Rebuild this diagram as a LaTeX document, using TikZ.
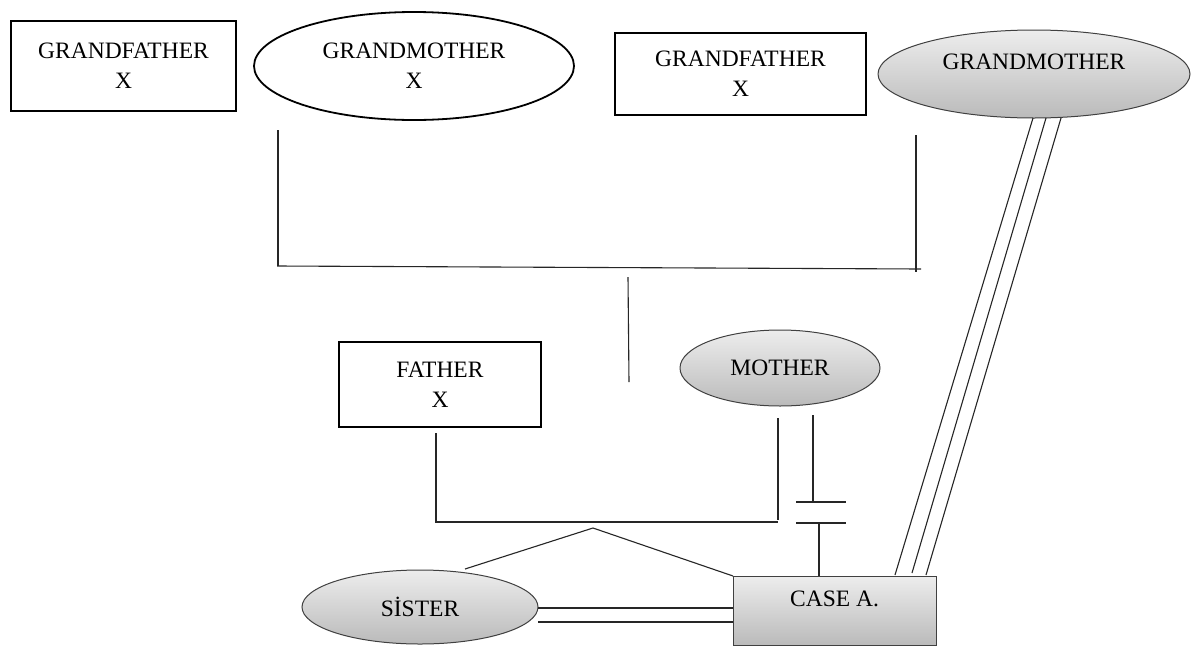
\documentclass[tikz,border=0pt]{standalone}
\usepackage{fontspec}
\setmainfont{Liberation Serif}
\usetikzlibrary{shapes.geometric,calc}
\begin{document}
\begin{tikzpicture}[x=1pt,y=-1pt,
  lblfont/.style={font=\fontsize{23.5}{30}\selectfont},
  every node/.style={inner sep=0pt,outer sep=0pt,align=center,lblfont},
  whitebox/.style={draw=black,line width=1.8pt,fill=white,rectangle},
  whiteell/.style={draw=black,line width=1.8pt,fill=white,ellipse},
  grayfill/.style={draw=black!75,line width=1pt,top color=black!7,bottom color=black!27},
  grayell/.style={grayfill,ellipse},
  graybox/.style={grayfill,rectangle},
  link/.style={draw=black!85,line width=1.1pt}]
\useasboundingbox (0,0) rectangle (1192,646);
\fill[white] (0,0) rectangle (1192,646);

% nodes
\node[whitebox,minimum width=225pt,minimum height=90pt] (gf1) at (123.5,66) {GRANDFATHER\\X};
\node[whiteell,minimum width=320pt,minimum height=108pt] (gm1) at (414,66) {GRANDMOTHER\\X};
\node[whitebox,minimum width=251pt,minimum height=82pt] (gf2) at (740.5,74) {GRANDFATHER\\X};
\node[grayell,minimum width=312pt,minimum height=88pt,
  label={[yshift=12pt,lblfont]center:GRANDMOTHER}] (gm2) at (1034,74) {};
\node[whitebox,minimum width=202pt,minimum height=85pt] (fa) at (440,384.5) {FATHER\\X};
\node[grayell,minimum width=200pt,minimum height=76pt] (mo) at (780,368) {MOTHER};
\node[grayell,minimum width=236pt,minimum height=74pt] (sis) at (420,607) {SİSTER};
\node[graybox,minimum width=203pt,minimum height=69pt,
  label={[yshift=12pt,lblfont]center:CASE A.}] (case) at (834.5,610.5) {};

% coordinates for free ends
\coordinate (gpL) at (278,130);
\coordinate (gpLb) at (278,266);
\coordinate (gpR) at (916,135);
\coordinate (gpRb) at (916,272);
\coordinate (hlL) at (277,266);
\coordinate (hlR) at (921,269);
\coordinate (dnT) at (628,277);
\coordinate (dnB) at (629,382);

\coordinate (faT) at (436,433);
\coordinate (faB) at (436,522);
\coordinate (moT) at (778,418);
\coordinate (moB) at (778,520);
\coordinate (pL) at (435,522);
\coordinate (pR) at (778,522);

\coordinate (m2T) at (813,415);
\coordinate (m2B) at (813,502);
\coordinate (bar1L) at (796,502);
\coordinate (bar1R) at (846,502);
\coordinate (bar2L) at (796,523);
\coordinate (bar2R) at (846,523);
\coordinate (m3T) at (819,523);

\coordinate (apex) at (593,528);
\coordinate (sisTop) at (465,569);

% grandparents
\draw[link] (gpL) -- (gpLb);
\draw[link] (gpR) -- (gpRb);
\draw[link] (hlL) -- (hlR);
\draw[link] (dnT) -- (dnB);

% parents
\draw[link] (faT) -- (faB);
\draw[link] (moT) -- (moB);
\draw[link] (pL) -- (pR);

% mother - case separated line
\draw[link] (m2T) -- (m2B);
\draw[link] (bar1L) -- (bar1R);
\draw[link] (bar2L) -- (bar2R);
\draw[link] (m3T) -- (m3T |- case.north);

% sibling triangle
\draw[link] (sisTop) -- (apex) -- (case.north west);

% sister - case double line
\draw[link] ($(sis.east)+(0,1)$) -- ($(case.west)+(0,-2.5)$);
\draw[link] ($(sis.east)+(0,15)$) -- ($(case.west)+(0,11.5)$);

% grandmother - case triple line
\draw[link] ($(gm2.south)+(-1,0)$) -- ($(case.north)+(60.5,-1)$);
\draw[link] ($(gm2.south)+(12,0)$) -- ($(case.north)+(77.5,-3)$);
\draw[link] ($(gm2.south)+(27,0)$) -- ($(case.north)+(91.5,-1)$);
\end{tikzpicture}
\end{document}
